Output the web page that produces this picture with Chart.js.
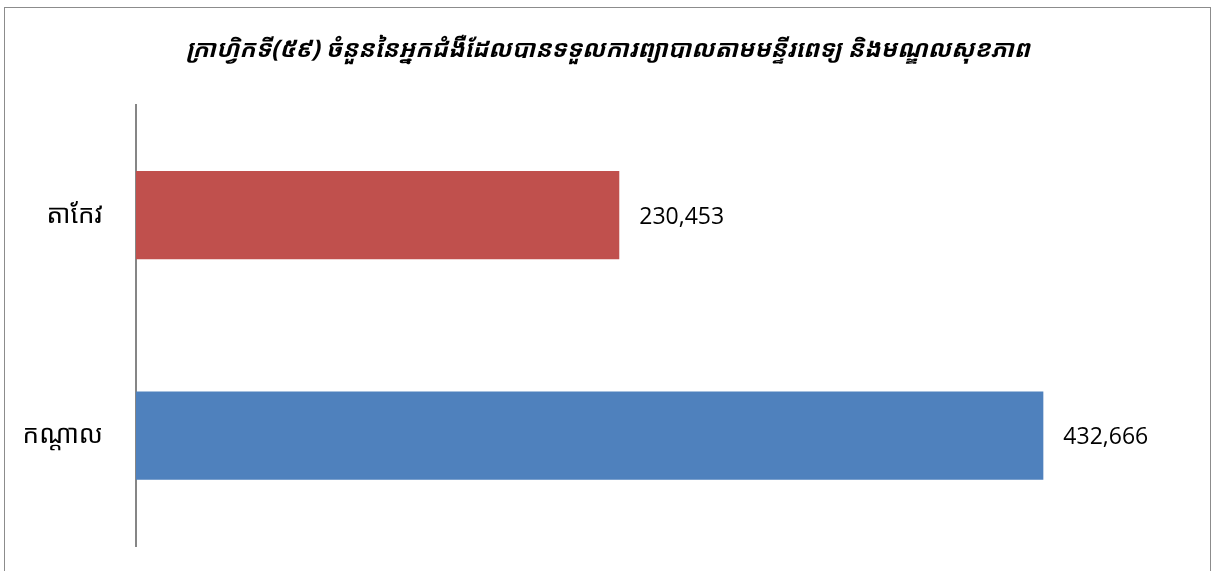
<!DOCTYPE html>
<html>
<head>
<meta charset="utf-8">
<script src="https://cdn.jsdelivr.net/npm/chart.js@4/dist/chart.umd.min.js"></script>
<style>
  html, body { margin: 0; padding: 0; background: #fff; }
  #wrap { position: relative; width: 1216px; height: 571px; overflow: hidden; }
  #frame { position: absolute; left: 4px; top: 7px; width: 1207px; height: 600px; border: 1px solid #8c8c8c; box-sizing: border-box; }
  canvas { position: absolute; left: 0; top: 0; }
</style>
</head>
<body>
<div id="wrap">
  <div id="frame"></div>
  <canvas id="chart" width="1216" height="571"></canvas>
</div>
<script>
// ទិន្នន័យ
const categories = ['តាកែវ', 'កណ្ដាល'];
const patients = [230453, 432666];
const barColors = ['#C0504D', '#4F81BD'];
const titleText = 'ក្រាហ្វិកទី(៥៩) ចំនួននៃអ្នកជំងឺដែលបានទទួលការព្យាបាលតាមមន្ទីរពេទ្យ និងមណ្ឌលសុខភាព';

const khmerFont = '"Khmer OS", "Noto Sans Khmer", "Noto Sans", "DejaVu Sans", sans-serif';

// ស្លាកតម្លៃនៅខាងស្ដាំរបារ
const valueLabels = {
  id: 'valueLabels',
  afterDatasetsDraw(chart) {
    const ctx = chart.ctx;
    const meta = chart.getDatasetMeta(0);
    ctx.save();
    ctx.font = '23px "Open Sans", "Noto Sans", sans-serif';
    ctx.fillStyle = '#000';
    ctx.textBaseline = 'middle';
    meta.data.forEach((bar, i) => {
      ctx.fillText(patients[i].toLocaleString('en-US'), bar.x + 20, bar.y + 2);
    });
    ctx.restore();
  }
};

new Chart(document.getElementById('chart').getContext('2d'), {
  type: 'bar',
  data: {
    labels: categories,
    datasets: [{
      data: patients,
      backgroundColor: barColors,
      barPercentage: 0.8,
      categoryPercentage: 0.5
    }]
  },
  options: {
    indexAxis: 'y',
    responsive: false,
    animation: false,
    layout: { padding: { left: 0, right: 0, top: 0, bottom: 25 } },
    plugins: {
      legend: { display: false },
      tooltip: { enabled: false },
      title: {
        display: true,
        text: titleText,
        color: '#000',
        font: { family: khmerFont, size: 24, style: 'italic', weight: 'bold', lineHeight: 1.2 },
        padding: { top: 36, bottom: 40 }
      }
    },
    scales: {
      x: { display: false, min: 0, max: 515000 },
      y: {
        grid: { display: false, drawTicks: false },
        border: { display: true, color: '#868686', width: 2 },
        ticks: { color: '#000', padding: 33, font: { family: khmerFont, size: 26 } },
        afterFit(scale) {
          scale.width = 136;
          // tick padding មិនត្រូវបន្ថែមលើកំពស់ទេ
          scale.paddingTop = 0;
          scale.paddingBottom = 0;
        }
      }
    }
  },
  plugins: [valueLabels]
});
</script>
</body>
</html>
